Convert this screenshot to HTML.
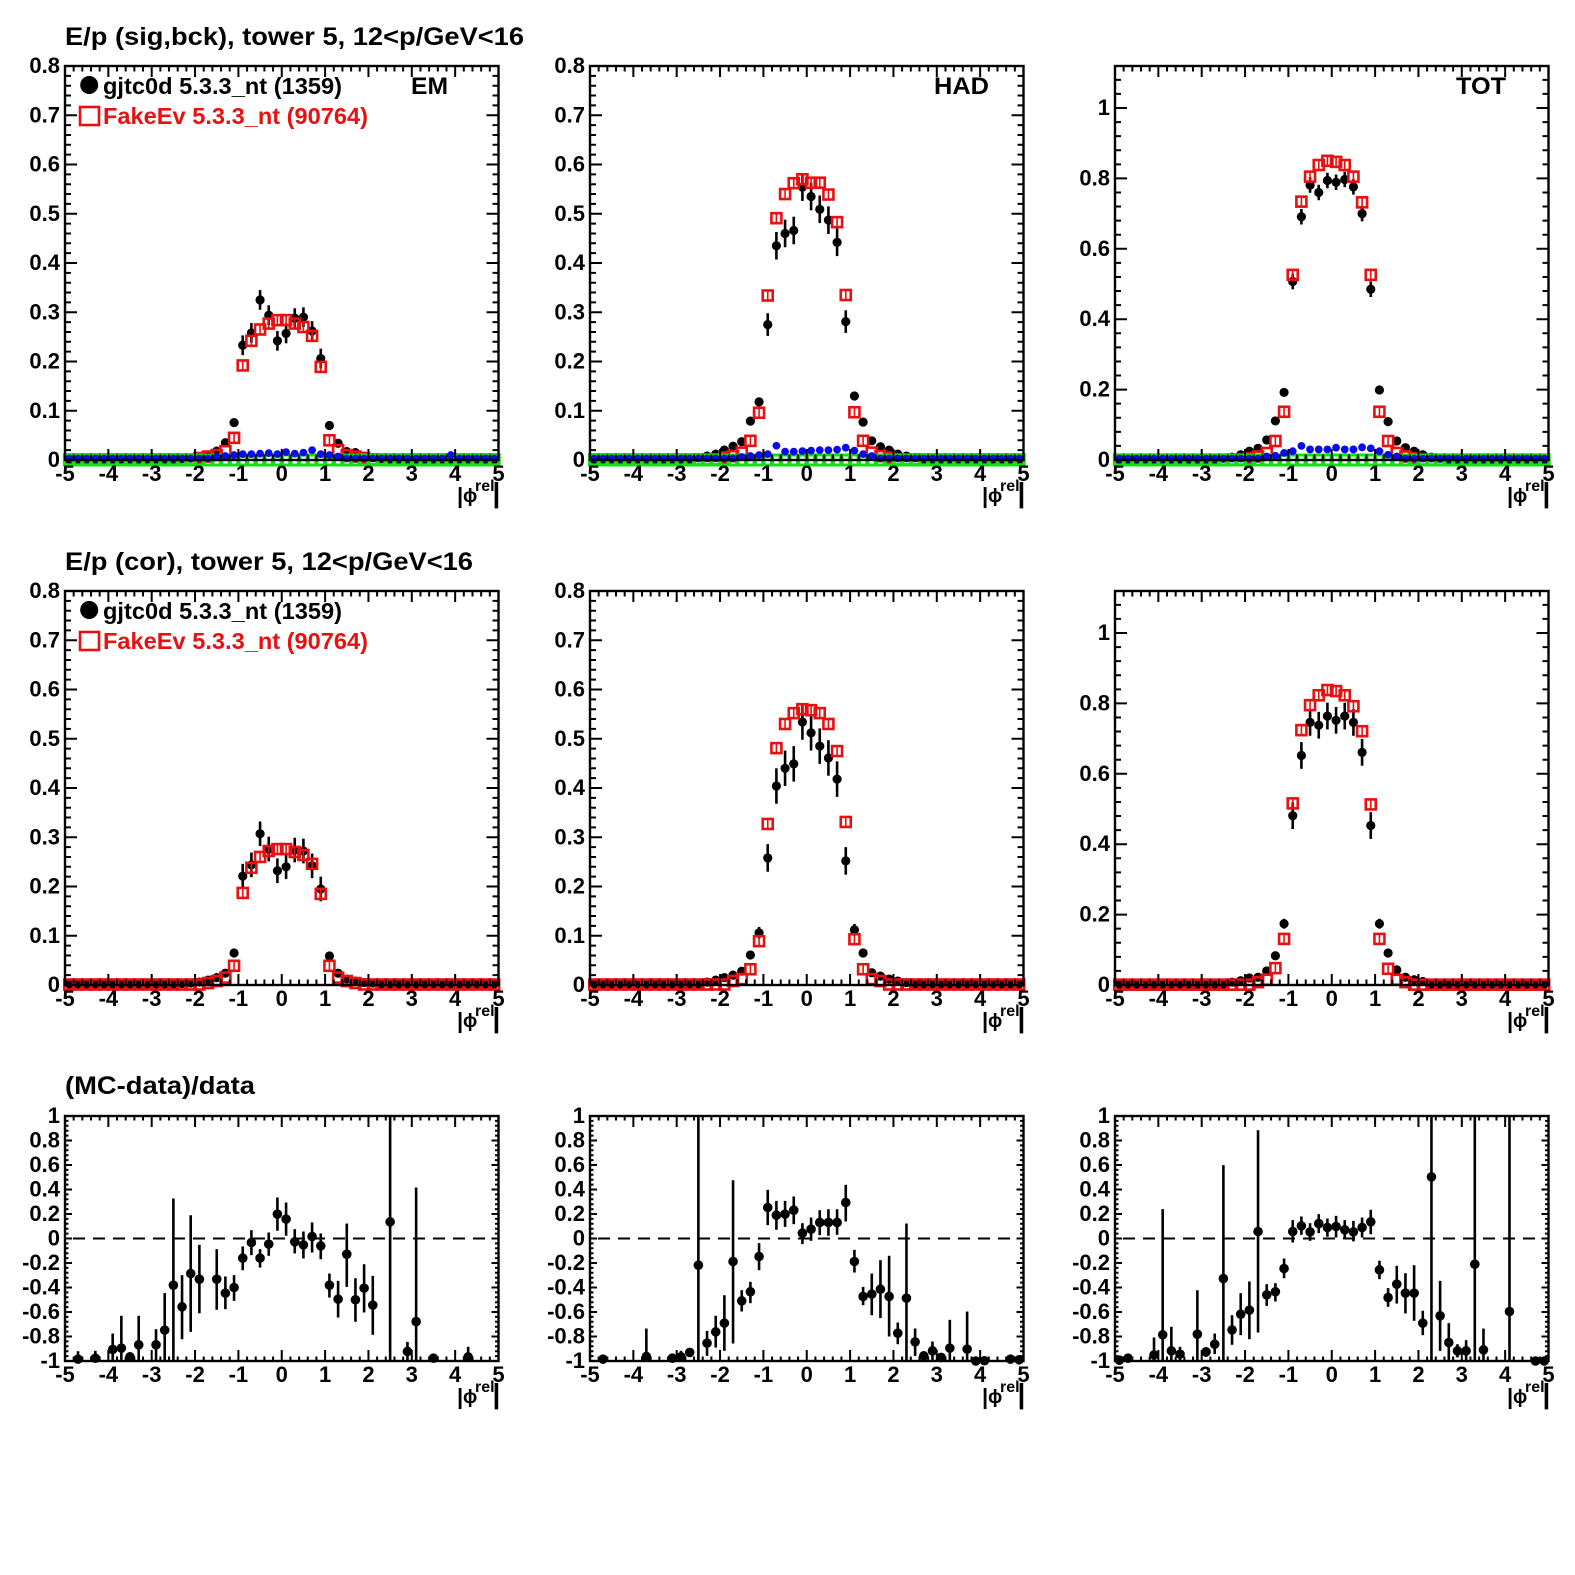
<!DOCTYPE html>
<html><head><meta charset="utf-8">
<style>
html,body{margin:0;padding:0;background:#fff;}
svg{display:block;}
text{font-family:"Liberation Sans",Arial,"DejaVu Sans",sans-serif;font-weight:bold;fill:#000;}
.xl{font-size:22px;text-anchor:middle;}
.yl{font-size:22px;text-anchor:end;}
</style></head>
<body>
<svg id="s" width="1575" height="1575" viewBox="0 0 1575 1575" xmlns="http://www.w3.org/2000/svg">
<rect width="1575" height="1575" fill="#fff"/>
<g id="plots"></g>

<!-- ================= ROW 1 ================= -->
<g transform="translate(65,66)">
  <text x="0" y="-21" font-size="25" textLength="459" lengthAdjust="spacingAndGlyphs">E/p (sig,bck), tower 5, 12&lt;p/GeV&lt;16</text>
  <circle cx="24.2" cy="19" r="9" fill="#000"/>
  <text x="38" y="28" font-size="23" textLength="239" lengthAdjust="spacingAndGlyphs">gjtc0d 5.3.3_nt (1359)</text>
  <rect x="15" y="41" width="19" height="18" fill="none" stroke="#e81010" stroke-width="2.6"/>
  <text x="38" y="58" font-size="23" textLength="265" lengthAdjust="spacingAndGlyphs" style="fill:#e81010">FakeEv 5.3.3_nt (90764)</text>
  <text x="346" y="28" font-size="24" textLength="37" lengthAdjust="spacingAndGlyphs">EM</text>
  <g class="yl"><text x="-5" y="401">0</text><text x="-5" y="351.75">0.1</text><text x="-5" y="302.5">0.2</text><text x="-5" y="253.25">0.3</text><text x="-5" y="204">0.4</text><text x="-5" y="154.75">0.5</text><text x="-5" y="105.5">0.6</text><text x="-5" y="56.25">0.7</text><text x="-5" y="7">0.8</text></g>
  <g class="xl" transform="translate(0,415)"><text x="0" y="0">-5</text><text x="43.35" y="0">-4</text><text x="86.7" y="0">-3</text><text x="130.05" y="0">-2</text><text x="173.4" y="0">-1</text><text x="216.75" y="0">0</text><text x="260.1" y="0">1</text><text x="303.45" y="0">2</text><text x="346.8" y="0">3</text><text x="390.15" y="0">4</text><text x="433.5" y="0">5</text></g>
  <g transform="translate(0,394)"><text x="392" y="43" font-size="22">|</text><text x="398" y="42" font-size="19">ϕ</text><text x="410" y="31" font-size="16">rel</text><text x="427.5" y="42" font-size="28">|</text></g>
</g>
<g transform="translate(590,66)">
  <text x="344" y="28" font-size="24" textLength="55" lengthAdjust="spacingAndGlyphs">HAD</text>
  <g class="yl"><text x="-5" y="401">0</text><text x="-5" y="351.75">0.1</text><text x="-5" y="302.5">0.2</text><text x="-5" y="253.25">0.3</text><text x="-5" y="204">0.4</text><text x="-5" y="154.75">0.5</text><text x="-5" y="105.5">0.6</text><text x="-5" y="56.25">0.7</text><text x="-5" y="7">0.8</text></g>
  <g class="xl" transform="translate(0,415)"><text x="0" y="0">-5</text><text x="43.35" y="0">-4</text><text x="86.7" y="0">-3</text><text x="130.05" y="0">-2</text><text x="173.4" y="0">-1</text><text x="216.75" y="0">0</text><text x="260.1" y="0">1</text><text x="303.45" y="0">2</text><text x="346.8" y="0">3</text><text x="390.15" y="0">4</text><text x="433.5" y="0">5</text></g>
  <g transform="translate(0,394)"><text x="392" y="43" font-size="22">|</text><text x="398" y="42" font-size="19">ϕ</text><text x="410" y="31" font-size="16">rel</text><text x="427.5" y="42" font-size="28">|</text></g>
</g>
<g transform="translate(1115,66)">
  <text x="341" y="28" font-size="24" textLength="50" lengthAdjust="spacingAndGlyphs">TOT</text>
  <g class="yl"><text x="-5" y="401">0</text><text x="-5" y="330.6">0.2</text><text x="-5" y="260.2">0.4</text><text x="-5" y="189.8">0.6</text><text x="-5" y="119.4">0.8</text><text x="-5" y="49">1</text></g>
  <g class="xl" transform="translate(0,415)"><text x="0" y="0">-5</text><text x="43.35" y="0">-4</text><text x="86.7" y="0">-3</text><text x="130.05" y="0">-2</text><text x="173.4" y="0">-1</text><text x="216.75" y="0">0</text><text x="260.1" y="0">1</text><text x="303.45" y="0">2</text><text x="346.8" y="0">3</text><text x="390.15" y="0">4</text><text x="433.5" y="0">5</text></g>
  <g transform="translate(0,394)"><text x="392" y="43" font-size="22">|</text><text x="398" y="42" font-size="19">ϕ</text><text x="410" y="31" font-size="16">rel</text><text x="427.5" y="42" font-size="28">|</text></g>
</g>

<!-- ================= ROW 2 ================= -->
<g transform="translate(65,591)">
  <text x="0" y="-21" font-size="25" textLength="408" lengthAdjust="spacingAndGlyphs">E/p (cor), tower 5, 12&lt;p/GeV&lt;16</text>
  <circle cx="24.2" cy="19" r="9" fill="#000"/>
  <text x="38" y="28" font-size="23" textLength="239" lengthAdjust="spacingAndGlyphs">gjtc0d 5.3.3_nt (1359)</text>
  <rect x="15" y="41" width="19" height="18" fill="none" stroke="#e81010" stroke-width="2.6"/>
  <text x="38" y="58" font-size="23" textLength="265" lengthAdjust="spacingAndGlyphs" style="fill:#e81010">FakeEv 5.3.3_nt (90764)</text>
  <g class="yl"><text x="-5" y="401">0</text><text x="-5" y="351.75">0.1</text><text x="-5" y="302.5">0.2</text><text x="-5" y="253.25">0.3</text><text x="-5" y="204">0.4</text><text x="-5" y="154.75">0.5</text><text x="-5" y="105.5">0.6</text><text x="-5" y="56.25">0.7</text><text x="-5" y="7">0.8</text></g>
  <g class="xl" transform="translate(0,415)"><text x="0" y="0">-5</text><text x="43.35" y="0">-4</text><text x="86.7" y="0">-3</text><text x="130.05" y="0">-2</text><text x="173.4" y="0">-1</text><text x="216.75" y="0">0</text><text x="260.1" y="0">1</text><text x="303.45" y="0">2</text><text x="346.8" y="0">3</text><text x="390.15" y="0">4</text><text x="433.5" y="0">5</text></g>
  <g transform="translate(0,394)"><text x="392" y="43" font-size="22">|</text><text x="398" y="42" font-size="19">ϕ</text><text x="410" y="31" font-size="16">rel</text><text x="427.5" y="42" font-size="28">|</text></g>
</g>
<g transform="translate(590,591)">
  <g class="yl"><text x="-5" y="401">0</text><text x="-5" y="351.75">0.1</text><text x="-5" y="302.5">0.2</text><text x="-5" y="253.25">0.3</text><text x="-5" y="204">0.4</text><text x="-5" y="154.75">0.5</text><text x="-5" y="105.5">0.6</text><text x="-5" y="56.25">0.7</text><text x="-5" y="7">0.8</text></g>
  <g class="xl" transform="translate(0,415)"><text x="0" y="0">-5</text><text x="43.35" y="0">-4</text><text x="86.7" y="0">-3</text><text x="130.05" y="0">-2</text><text x="173.4" y="0">-1</text><text x="216.75" y="0">0</text><text x="260.1" y="0">1</text><text x="303.45" y="0">2</text><text x="346.8" y="0">3</text><text x="390.15" y="0">4</text><text x="433.5" y="0">5</text></g>
  <g transform="translate(0,394)"><text x="392" y="43" font-size="22">|</text><text x="398" y="42" font-size="19">ϕ</text><text x="410" y="31" font-size="16">rel</text><text x="427.5" y="42" font-size="28">|</text></g>
</g>
<g transform="translate(1115,591)">
  <g class="yl"><text x="-5" y="401">0</text><text x="-5" y="330.6">0.2</text><text x="-5" y="260.2">0.4</text><text x="-5" y="189.8">0.6</text><text x="-5" y="119.4">0.8</text><text x="-5" y="49">1</text></g>
  <g class="xl" transform="translate(0,415)"><text x="0" y="0">-5</text><text x="43.35" y="0">-4</text><text x="86.7" y="0">-3</text><text x="130.05" y="0">-2</text><text x="173.4" y="0">-1</text><text x="216.75" y="0">0</text><text x="260.1" y="0">1</text><text x="303.45" y="0">2</text><text x="346.8" y="0">3</text><text x="390.15" y="0">4</text><text x="433.5" y="0">5</text></g>
  <g transform="translate(0,394)"><text x="392" y="43" font-size="22">|</text><text x="398" y="42" font-size="19">ϕ</text><text x="410" y="31" font-size="16">rel</text><text x="427.5" y="42" font-size="28">|</text></g>
</g>

<!-- ================= ROW 3 ================= -->
<g transform="translate(65,1116)">
  <text x="0" y="-22" font-size="25" textLength="190" lengthAdjust="spacingAndGlyphs">(MC-data)/data</text>
  <g class="yl"><text x="-5" y="7">1</text><text x="-5" y="31.5">0.8</text><text x="-5" y="56">0.6</text><text x="-5" y="80.5">0.4</text><text x="-5" y="105">0.2</text><text x="-5" y="129.5">0</text><text x="-5" y="154">-0.2</text><text x="-5" y="178.5">-0.4</text><text x="-5" y="203">-0.6</text><text x="-5" y="227.5">-0.8</text><text x="-5" y="252">-1</text></g>
  <g class="xl" transform="translate(0,266)"><text x="0" y="0">-5</text><text x="43.35" y="0">-4</text><text x="86.7" y="0">-3</text><text x="130.05" y="0">-2</text><text x="173.4" y="0">-1</text><text x="216.75" y="0">0</text><text x="260.1" y="0">1</text><text x="303.45" y="0">2</text><text x="346.8" y="0">3</text><text x="390.15" y="0">4</text><text x="433.5" y="0">5</text></g>
  <g transform="translate(0,245)"><text x="392" y="43" font-size="22">|</text><text x="398" y="42" font-size="19">ϕ</text><text x="410" y="31" font-size="16">rel</text><text x="427.5" y="42" font-size="28">|</text></g>
</g>
<g transform="translate(590,1116)">
  <g class="yl"><text x="-5" y="7">1</text><text x="-5" y="31.5">0.8</text><text x="-5" y="56">0.6</text><text x="-5" y="80.5">0.4</text><text x="-5" y="105">0.2</text><text x="-5" y="129.5">0</text><text x="-5" y="154">-0.2</text><text x="-5" y="178.5">-0.4</text><text x="-5" y="203">-0.6</text><text x="-5" y="227.5">-0.8</text><text x="-5" y="252">-1</text></g>
  <g class="xl" transform="translate(0,266)"><text x="0" y="0">-5</text><text x="43.35" y="0">-4</text><text x="86.7" y="0">-3</text><text x="130.05" y="0">-2</text><text x="173.4" y="0">-1</text><text x="216.75" y="0">0</text><text x="260.1" y="0">1</text><text x="303.45" y="0">2</text><text x="346.8" y="0">3</text><text x="390.15" y="0">4</text><text x="433.5" y="0">5</text></g>
  <g transform="translate(0,245)"><text x="392" y="43" font-size="22">|</text><text x="398" y="42" font-size="19">ϕ</text><text x="410" y="31" font-size="16">rel</text><text x="427.5" y="42" font-size="28">|</text></g>
</g>
<g transform="translate(1115,1116)">
  <g class="yl"><text x="-5" y="7">1</text><text x="-5" y="31.5">0.8</text><text x="-5" y="56">0.6</text><text x="-5" y="80.5">0.4</text><text x="-5" y="105">0.2</text><text x="-5" y="129.5">0</text><text x="-5" y="154">-0.2</text><text x="-5" y="178.5">-0.4</text><text x="-5" y="203">-0.6</text><text x="-5" y="227.5">-0.8</text><text x="-5" y="252">-1</text></g>
  <g class="xl" transform="translate(0,266)"><text x="0" y="0">-5</text><text x="43.35" y="0">-4</text><text x="86.7" y="0">-3</text><text x="130.05" y="0">-2</text><text x="173.4" y="0">-1</text><text x="216.75" y="0">0</text><text x="260.1" y="0">1</text><text x="303.45" y="0">2</text><text x="346.8" y="0">3</text><text x="390.15" y="0">4</text><text x="433.5" y="0">5</text></g>
  <g transform="translate(0,245)"><text x="392" y="43" font-size="22">|</text><text x="398" y="42" font-size="19">ϕ</text><text x="410" y="31" font-size="16">rel</text><text x="427.5" y="42" font-size="28">|</text></g>
</g>
</svg>

<script>
(function(){
var NS='http://www.w3.org/2000/svg';
var G=document.getElementById('plots');
function add(tag,a,par){var e=document.createElementNS(NS,tag);for(var k in a)e.setAttribute(k,a[k]);(par||G).appendChild(e);return e;}
var XS=43.35,W=433.5;
var RED='#e81010',BLUE='#0a0aee',GREEN='#11e011';
function P(L,T,H,y0,y1){return {L:L,T:T,H:H,y0:y0,y1:y1,X:function(c){return L+(c+5)*XS;},Y:function(v){return T+H-(v-y0)/(y1-y0)*H;}};}
function frame(p,yStep,nSub,xM,xm,yM,ym){
  var d='',i;
  for(i=0;i<=50;i++){var x=(p.L+i*XS/5).toFixed(2);var l=(i%5===0)?xM:xm;d+='M'+x+' '+(p.T+p.H)+'v'+(-l)+'M'+x+' '+p.T+'v'+l;}
  var st=yStep/nSub;var n=Math.floor((p.y1-p.y0)/st+1e-6);
  for(i=0;i<=n;i++){var y=p.Y(p.y0+i*st).toFixed(2);var l2=(i%nSub===0)?yM:ym;d+='M'+p.L+' '+y+'h'+l2+'M'+(p.L+W)+' '+y+'h'+(-l2);}
  add('path',{d:d,stroke:'#000','stroke-width':2,fill:'none'});
  add('rect',{x:p.L,y:p.T,width:W,height:p.H,fill:'none',stroke:'#000','stroke-width':2.4});
}
function fill(def,pairs){var a=[];for(var i=0;i<50;i++)a.push(def);pairs.forEach(function(q){a[Math.round((q[0]+4.9)/0.2)]=q[1];});return a;}
function hist(p,blk,errf,red,blue,green){
  var k,c,x,y,e;
  for(k=0;k<50;k++){c=-4.9+0.2*k;x=p.X(c);y=p.Y(blk[k]);e=errf(c);
    if(e>0){add('line',{x1:x,x2:x,y1:p.Y(blk[k]+e),y2:Math.min(p.Y(Math.max(blk[k]-e,p.y0)),p.T+p.H),stroke:'#000','stroke-width':2.6});}
    add('circle',{cx:x,cy:y,r:4.6,fill:'#000'});}
  for(k=0;k<50;k++){c=-4.9+0.2*k;x=p.X(c);y=p.Y(red[k]);
    add('rect',{x:x-5,y:y-5,width:10,height:10,fill:'none',stroke:RED,'stroke-width':2.6});
    if(red[k]>0.02){add('line',{x1:x,x2:x,y1:y-4,y2:y+4,stroke:RED,'stroke-width':1.6});}}
  if(green){for(k=0;k<50;k++){c=-4.9+0.2*k;x=p.X(c);y=p.Y(green[k]);
    add('rect',{x:x-5,y:y-5,width:10,height:10,fill:'none',stroke:GREEN,'stroke-width':3});}}
  if(blue){for(k=0;k<50;k++){c=-4.9+0.2*k;x=p.X(c);y=p.Y(blue[k]);
    add('circle',{cx:x,cy:y,r:3.9,fill:BLUE});}}
}
function ratio(p,list){
  add('line',{x1:p.L,x2:p.L+W,y1:p.Y(0),y2:p.Y(0),stroke:'#000','stroke-width':2,'stroke-dasharray':'12 8','stroke-dashoffset':12});
  list.forEach(function(q){var x=p.X(q[0]);
    if(q.length>2){var hi=Math.min(q[2],1),lo=Math.max(q[3],-1);
      add('line',{x1:x,x2:x,y1:p.Y(hi),y2:p.Y(lo),stroke:'#000','stroke-width':2.6});}
    add('circle',{cx:x,cy:p.Y(q[1]),r:4.8,fill:'#000'});});
}
var zero=fill(0,[]);

var p11=P(65,66,394,0,0.8),p12=P(590,66,394,0,0.8),p13=P(1115,66,394,0,394/352);
hist(p11,
 fill(0.001,[[-2.3,.003],[-2.1,.004],[-1.9,.006],[-1.7,.01],[-1.5,.018],[-1.3,.035],[-1.1,.076],[-0.9,.233],[-0.7,.258],[-0.5,.325],[-0.3,.294],[-0.1,.242],[0.1,.257],[0.3,.288],[0.5,.29],[0.7,.262],[0.9,.206],[1.1,.07],[1.3,.034],[1.5,.017],[1.7,.015],[1.9,.008],[2.1,.005],[2.3,.003]]),
 function(c){return Math.abs(c)<1?0.02:(Math.abs(c)<1.2?0.008:0.003);},
 fill(0.001,[[-1.9,.004],[-1.7,.007],[-1.5,.01],[-1.3,.018],[-1.1,.045],[-0.9,.192],[-0.7,.242],[-0.5,.265],[-0.3,.277],[-0.1,.284],[0.1,.284],[0.3,.277],[0.5,.27],[0.7,.252],[0.9,.189],[1.1,.04],[1.3,.02],[1.5,.01],[1.7,.007],[1.9,.004]]),
 fill(0.003,[[-1.5,.006],[-1.3,.008],[-1.1,.01],[-0.9,.012],[-0.7,.012],[-0.5,.013],[-0.3,.014],[-0.1,.012],[0.1,.016],[0.3,.013],[0.5,.015],[0.7,.02],[0.9,.012],[1.1,.01],[1.3,.007],[3.9,.01]]),
 zero);
hist(p12,
 fill(0.001,[[-2.5,.005],[-2.3,.008],[-2.1,.012],[-1.9,.02],[-1.7,.028],[-1.5,.037],[-1.3,.079],[-1.1,.118],[-0.9,.275],[-0.7,.435],[-0.5,.46],[-0.3,.466],[-0.1,.554],[0.1,.535],[0.3,.509],[0.5,.487],[0.7,.442],[0.9,.281],[1.1,.13],[1.3,.077],[1.5,.039],[1.7,.027],[1.9,.02],[2.1,.012],[2.3,.008],[2.5,.005]]),
 function(c){var a=Math.abs(c);return a<0.8?0.028:(a<1?0.023:(a<1.2?0.009:0.004));},
 fill(0.001,[[-1.9,.005],[-1.7,.008],[-1.5,.015],[-1.3,.039],[-1.1,.096],[-0.9,.334],[-0.7,.491],[-0.5,.54],[-0.3,.562],[-0.1,.57],[0.1,.563],[0.3,.563],[0.5,.539],[0.7,.483],[0.9,.335],[1.1,.097],[1.3,.039],[1.5,.015],[1.7,.008],[1.9,.005]]),
 fill(0.003,[[-1.5,.006],[-1.3,.008],[-1.1,.01],[-0.9,.012],[-0.7,.029],[-0.5,.017],[-0.3,.017],[-0.1,.018],[0.1,.019],[0.3,.02],[0.5,.02],[0.7,.021],[0.9,.025],[1.1,.019],[1.3,.012],[1.5,.008]]),
 zero);
hist(p13,
 fill(0.001,[[-2.5,.005],[-2.3,.008],[-2.1,.015],[-1.9,.025],[-1.7,.033],[-1.5,.057],[-1.3,.111],[-1.1,.192],[-0.9,.507],[-0.7,.691],[-0.5,.781],[-0.3,.76],[-0.1,.794],[0.1,.789],[0.3,.797],[0.5,.776],[0.7,.7],[0.9,.485],[1.1,.199],[1.3,.109],[1.5,.054],[1.7,.035],[1.9,.025],[2.1,.015],[2.3,.008],[2.5,.005]]),
 function(c){var a=Math.abs(c);return a<1?0.022:(a<1.2?0.01:0.004);},
 fill(0.001,[[-1.9,.005],[-1.7,.01],[-1.5,.02],[-1.3,.054],[-1.1,.137],[-0.9,.526],[-0.7,.734],[-0.5,.805],[-0.3,.838],[-0.1,.85],[0.1,.847],[0.3,.838],[0.5,.805],[0.7,.732],[0.9,.526],[1.1,.137],[1.3,.054],[1.5,.02],[1.7,.01],[1.9,.005]]),
 fill(0.004,[[-1.5,.01],[-1.3,.012],[-1.1,.02],[-0.9,.025],[-0.7,.04],[-0.5,.03],[-0.3,.03],[-0.1,.03],[0.1,.035],[0.3,.03],[0.5,.03],[0.7,.036],[0.9,.033],[1.1,.025],[1.3,.015],[1.5,.01]]),
 zero);
frame(p11,0.1,5,11,5.5,12,6);frame(p12,0.1,5,11,5.5,12,6);frame(p13,0.2,5,11,5.5,12,6);

var p21=P(65,591,394,0,0.8),p22=P(590,591,394,0,0.8),p23=P(1115,591,394,0,394/352);
hist(p21,
 fill(0.002,[[-2.3,.003],[-2.1,.004],[-1.9,.006],[-1.7,.01],[-1.5,.015],[-1.3,.024],[-1.1,.065],[-0.9,.221],[-0.7,.244],[-0.5,.307],[-0.3,.276],[-0.1,.232],[0.1,.24],[0.3,.274],[0.5,.272],[0.7,.242],[0.9,.195],[1.1,.059],[1.3,.024],[1.5,.012],[1.7,.008],[1.9,.005],[2.1,.004]]),
 function(c){var a=Math.abs(c);return a<1?0.025:(a<1.2?0.009:0.003);},
 fill(0.001,[[-1.7,.004],[-1.5,.008],[-1.3,.015],[-1.1,.039],[-0.9,.187],[-0.7,.238],[-0.5,.26],[-0.3,.272],[-0.1,.276],[0.1,.276],[0.3,.27],[0.5,.264],[0.7,.246],[0.9,.185],[1.1,.039],[1.3,.015],[1.5,.008],[1.7,.004]]),
 null,null);
hist(p22,
 fill(0.002,[[-2.3,.006],[-2.1,.01],[-1.9,.015],[-1.7,.02],[-1.5,.028],[-1.3,.061],[-1.1,.106],[-0.9,.258],[-0.7,.404],[-0.5,.44],[-0.3,.449],[-0.1,.534],[0.1,.512],[0.3,.485],[0.5,.461],[0.7,.418],[0.9,.252],[1.1,.112],[1.3,.065],[1.5,.025],[1.7,.018],[1.9,.012],[2.1,.008],[2.3,.005]]),
 function(c){var a=Math.abs(c);return a<0.8?0.036:(a<1?0.028:(a<1.2?0.012:0.004));},
 fill(0.001,[[-1.7,.008],[-1.5,.012],[-1.3,.032],[-1.1,.089],[-0.9,.327],[-0.7,.481],[-0.5,.53],[-0.3,.552],[-0.1,.56],[0.1,.558],[0.3,.552],[0.5,.53],[0.7,.475],[0.9,.331],[1.1,.093],[1.3,.032],[1.5,.012],[1.7,.008]]),
 null,null);
hist(p23,
 fill(0.002,[[-2.3,.008],[-2.1,.012],[-1.9,.02],[-1.7,.022],[-1.5,.04],[-1.3,.083],[-1.1,.174],[-0.9,.481],[-0.7,.652],[-0.5,.746],[-0.3,.738],[-0.1,.764],[0.1,.752],[0.3,.764],[0.5,.746],[0.7,.661],[0.9,.453],[1.1,.174],[1.3,.091],[1.5,.043],[1.7,.022],[1.9,.015],[2.1,.01]]),
 function(c){var a=Math.abs(c);return a<1?0.038:(a<1.2?0.014:0.005);},
 fill(0.001,[[-1.7,.008],[-1.5,.015],[-1.3,.048],[-1.1,.131],[-0.9,.516],[-0.7,.724],[-0.5,.795],[-0.3,.823],[-0.1,.838],[0.1,.835],[0.3,.823],[0.5,.792],[0.7,.721],[0.9,.513],[1.1,.131],[1.3,.046],[1.5,.015],[1.7,.008]]),
 null,null);
frame(p21,0.1,5,11,5.5,12,6);frame(p22,0.1,5,11,5.5,12,6);frame(p23,0.2,5,11,5.5,12,6);

var p31=P(65,1116,245,-1,1),p32=P(590,1116,245,-1,1),p33=P(1115,1116,245,-1,1);
ratio(p31,[
[-4.7,-0.985,-0.92,-1.01],[-4.3,-0.977,-0.917,-1.01],[-3.9,-0.906,-0.776,-1.01],[-3.7,-0.895,-0.631,-1.01],[-3.5,-0.966,-0.94,-1.0],
[-3.3,-0.868,-0.631,-1.01],[-2.9,-0.868,-0.74,-1.01],[-2.7,-0.748,-0.446,-1.01],[-2.5,-0.381,0.327,-1.01],[-2.3,-0.558,-0.299,-0.822],
[-2.1,-0.286,0.19,-0.762],[-1.9,-0.332,-0.052,-0.61],[-1.5,-0.332,-0.087,-0.582],[-1.3,-0.446,-0.31,-0.577],[-1.1,-0.4,-0.299,-0.509],
[-0.9,-0.16,-0.065,-0.259],[-0.7,-0.033,0.068,-0.136],[-0.5,-0.16,-0.087,-0.237],[-0.3,-0.046,0.049,-0.141],[-0.1,0.199,0.335,0.063],
[0.1,0.158,0.294,0.022],[0.3,-0.027,0.076,-0.122],[0.5,-0.052,0.057,-0.163],[0.7,0.016,0.131,-0.114],[0.9,-0.06,0.041,-0.169],
[1.1,-0.381,-0.286,-0.482],[1.3,-0.495,-0.346,-0.645],[1.5,-0.128,0.122,-0.395],[1.7,-0.5,-0.324,-0.68],[1.9,-0.405,-0.21,-0.604],
[2.1,-0.544,-0.305,-0.786],[2.5,0.136,1,-1.01],[2.9,-0.922,-0.844,-1.01],[3.1,-0.678,0.416,-1.01],[3.5,-0.977,-0.95,-1.0],[4.3,-0.966,-0.884,-1.01]]);
ratio(p32,[
[-4.7,-0.985,-0.95,-1.01],[-3.7,-0.963,-0.735,-1.01],[-3.1,-0.977,-0.94,-1.0],[-2.9,-0.966,-0.917,-1.01],[-2.7,-0.93,-0.91,-0.95],
[-2.5,-0.218,1,-1.01],[-2.3,-0.854,-0.754,-0.958],[-2.1,-0.762,-0.631,-0.89],[-1.9,-0.691,-0.463,-0.917],[-1.7,-0.188,0.476,-0.857],
[-1.5,-0.509,-0.422,-0.596],[-1.3,-0.435,-0.354,-0.528],[-1.1,-0.147,-0.038,-0.259],[-0.9,0.253,0.397,0.109],[-0.7,0.19,0.307,0.071],
[-0.5,0.199,0.307,0.095],[-0.3,0.231,0.343,0.117],[-0.1,0.044,0.125,-0.046],[0.1,0.076,0.171,-0.019],[0.3,0.131,0.231,0.027],
[0.5,0.131,0.239,0.022],[0.7,0.131,0.239,0.03],[0.9,0.294,0.438,0.139],[1.1,-0.188,-0.093,-0.278],[1.3,-0.473,-0.395,-0.544],
[1.5,-0.454,-0.286,-0.626],[1.7,-0.414,-0.177,-0.65],[1.9,-0.473,-0.141,-0.8],[2.1,-0.773,-0.686,-0.863],[2.3,-0.487,0.122,-1.01],
[2.5,-0.844,-0.735,-0.958],[2.7,-0.958,-0.93,-0.99],[2.9,-0.917,-0.841,-1.0],[3.1,-0.971,-0.95,-1.0],[3.3,-0.895,-0.664,-1.01],
[3.7,-0.903,-0.596,-1.01],[3.9,-1.0],[4.1,-0.998],[4.7,-0.985],[4.9,-0.99]]);
ratio(p33,[
[-4.9,-0.993],[-4.7,-0.977],[-4.1,-0.95,-0.808,-1.01],[-3.9,-0.786,0.24,-1.01],[-3.7,-0.917,-0.721,-1.01],[-3.5,-0.944,-0.884,-1.0],
[-3.1,-0.781,-0.422,-1.01],[-2.9,-0.925,-0.89,-0.966],[-2.7,-0.863,-0.776,-0.944],[-2.5,-0.327,0.599,-1.01],[-2.3,-0.746,-0.626,-0.868],
[-2.1,-0.618,-0.446,-0.789],[-1.9,-0.585,-0.351,-0.822],[-1.7,0.057,0.884,-0.767],[-1.5,-0.46,-0.373,-0.55],[-1.3,-0.435,-0.365,-0.514],
[-1.1,-0.245,-0.163,-0.324],[-0.9,0.057,0.15,-0.033],[-0.7,0.103,0.18,0.03],[-0.5,0.054,0.125,-0.019],[-0.3,0.122,0.199,0.044],
[-0.1,0.09,0.163,0.014],[0.1,0.098,0.185,0.008],[0.3,0.071,0.15,0],[0.5,0.054,0.144,-0.024],[0.7,0.09,0.171,0.008],
[0.9,0.136,0.234,0.035],[1.1,-0.256,-0.182,-0.332],[1.3,-0.482,-0.405,-0.558],[1.5,-0.373,-0.223,-0.531],[1.7,-0.446,-0.283,-0.612],
[1.9,-0.446,-0.218,-0.672],[2.1,-0.691,-0.59,-0.789],[2.3,0.503,1,-1.01],[2.5,-0.631,-0.346,-0.917],[2.7,-0.849,-0.691,-1.01],
[2.9,-0.917,-0.863,-0.971],[3.1,-0.917,-0.83,-1.0],[3.3,-0.21,1,-1.01],[3.5,-0.909,-0.735,-1.01],[4.1,-0.596,1,-1.01],
[4.7,-1.0],[4.9,-1.0]]);
frame(p31,0.2,5,11,4.5,7,3.5);frame(p32,0.2,5,11,4.5,7,3.5);frame(p33,0.2,5,11,4.5,7,3.5);
})();
</script>
</body></html>
